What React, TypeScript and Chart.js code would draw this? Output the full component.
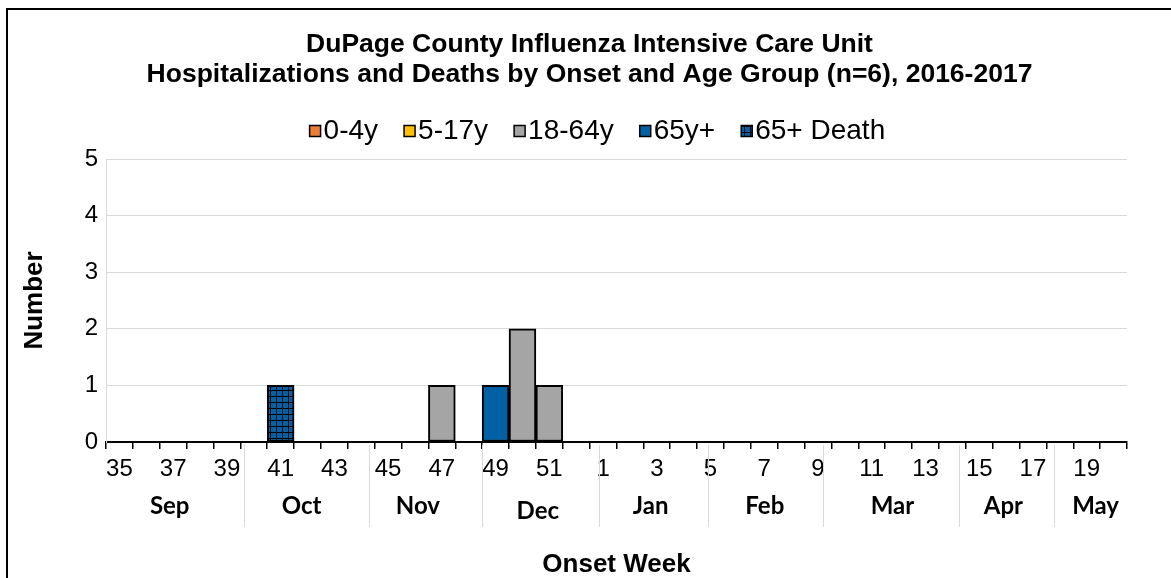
import React, { useEffect, useRef } from 'react';
import { Chart, registerables } from 'chart.js';

Chart.register(...registerables);

// ---------------- data ----------------
const weeks = [
  '35', '36', '37', '38', '39', '40', '41', '42', '43', '44', '45', '46', '47', '48', '49', '50', '51', '52',
  '1', '2', '3', '4', '5', '6', '7', '8', '9', '10', '11', '12', '13', '14', '15', '16', '17', '18', '19', '20',
];
const age0to4 = [
  0, 0, 0, 0, 0, 0, 0, 0, 0, 0, 0, 0, 0, 0, 0, 0, 0, 0,
  0, 0, 0, 0, 0, 0, 0, 0, 0, 0, 0, 0, 0, 0, 0, 0, 0, 0, 0, 0,
];
const age5to17 = [
  0, 0, 0, 0, 0, 0, 0, 0, 0, 0, 0, 0, 0, 0, 0, 0, 0, 0,
  0, 0, 0, 0, 0, 0, 0, 0, 0, 0, 0, 0, 0, 0, 0, 0, 0, 0, 0, 0,
];
const age18to64 = [
  0, 0, 0, 0, 0, 0, 0, 0, 0, 0, 0, 0, 1, 0, 0, 2, 1, 0,
  0, 0, 0, 0, 0, 0, 0, 0, 0, 0, 0, 0, 0, 0, 0, 0, 0, 0, 0, 0,
];
const age65plus = [
  0, 0, 0, 0, 0, 0, 0, 0, 0, 0, 0, 0, 0, 0, 1, 0, 0, 0,
  0, 0, 0, 0, 0, 0, 0, 0, 0, 0, 0, 0, 0, 0, 0, 0, 0, 0, 0, 0,
];
const death65plus = [
  0, 0, 0, 0, 0, 0, 1, 0, 0, 0, 0, 0, 0, 0, 0, 0, 0, 0,
  0, 0, 0, 0, 0, 0, 0, 0, 0, 0, 0, 0, 0, 0, 0, 0, 0, 0, 0, 0,
];
const seriesLabels = ['0-4y', '5-17y', '18-64y', '65y+', '65+ Death'];
const months = ['Sep', 'Oct', 'Nov', 'Dec', 'Jan', 'Feb', 'Mar', 'Apr', 'May'];
const yTicks = [0, 1, 2, 3, 4, 5];
const titleLines = [
  'DuPage County Influenza Intensive Care Unit',
  'Hospitalizations and Deaths by Onset and Age Group (n=6), 2016-2017',
];
const xTitle = 'Onset Week';
const yTitle = 'Number';

// ---------------- layout / style constants ----------------
const FONT = '"Liberation Sans", Arial, sans-serif';
const MONTH_FONT = '"Lato", "Liberation Sans", sans-serif';
const COLORS = ['#ED7D31', '#FFC000', '#A5A5A5', '#0062A4'];
const DEATH_BLUE = '#0062A4';
// positions in "category boundary" units (0 = left edge of first category)
const MONTH_LABEL_AT = [2.37, 7.28, 11.61, 16.07, 20.27, 24.52, 29.27, 33.4, 36.83];
const MONTH_LABEL_Y = [506, 506, 506, 511, 506, 506, 506, 506, 506];
const MONTH_SEPARATORS_AT = [5.14, 9.79, 13.99, 18.35, 22.4, 26.68, 31.75, 35.28];

function toNull(arr: number[]) {
  return arr.map((v) => (v === 0 ? null : v));
}

function makePattern(): CanvasPattern | string {
  const pc = document.createElement('canvas');
  pc.width = 6;
  pc.height = 6;
  const c = pc.getContext('2d');
  if (!c) return DEATH_BLUE;
  c.fillStyle = DEATH_BLUE;
  c.fillRect(0, 0, 6, 6);
  c.fillStyle = '#000';
  c.fillRect(0, 0, 6, 1);
  c.fillRect(0, 0, 1, 6);
  const p = c.createPattern(pc, 'repeat');
  return p || DEATH_BLUE;
}

const decorPlugin = {
  id: 'decor',
  afterLayout(chart: any) {
    const t = chart.titleBlock;
    if (t) {
      t.left += 22;
      t.right += 22;
    }
  },
  beforeDraw(chart: any) {
    const ctx = chart.ctx;
    ctx.save();
    ctx.fillStyle = '#fff';
    ctx.fillRect(0, 0, chart.width, chart.height);
    ctx.strokeStyle = '#000';
    ctx.lineWidth = 2;
    ctx.strokeRect(7, 9, chart.width + 20, chart.height + 20);
    ctx.restore();
  },
  afterDraw(chart: any) {
    const ctx = chart.ctx;
    const xs = chart.scales.x;
    ctx.save();
    // month separators
    ctx.strokeStyle = '#D9D9D9';
    ctx.lineWidth = 1;
    MONTH_SEPARATORS_AT.forEach((u) => {
      const x = Math.round(xs.getPixelForValue(u - 0.5)) + 0.5;
      ctx.beginPath();
      ctx.moveTo(x, 445);
      ctx.lineTo(x, 527);
      ctx.stroke();
    });
    // month labels
    ctx.fillStyle = '#000';
    ctx.font = 'bold 24px ' + MONTH_FONT;
    ctx.textAlign = 'center';
    ctx.textBaseline = 'middle';
    months.forEach((m, i) => {
      const x = xs.getPixelForValue(MONTH_LABEL_AT[i] - 0.5);
      ctx.fillText(m, x, MONTH_LABEL_Y[i]);
    });
    // legend
    const ds = chart.data.datasets;
    ctx.font = '28px ' + FONT;
    ctx.textAlign = 'left';
    const box = 11;
    const gapBoxText = 3;
    const gapItem = 26;
    const widths = ds.map((d: any) => ctx.measureText(d.label).width);
    const total =
      widths.reduce((a: number, b: number) => a + b, 0) +
      ds.length * (box + gapBoxText) +
      (ds.length - 1) * gapItem;
    let x = 597.4 - total / 2;
    const cy = 131;
    ds.forEach((d: any, i: number) => {
      ctx.fillStyle = d.backgroundColor;
      ctx.fillRect(x, cy - box / 2, box, box);
      ctx.strokeStyle = '#000';
      ctx.lineWidth = 1.5;
      ctx.strokeRect(x, cy - box / 2, box, box);
      ctx.fillStyle = '#000';
      ctx.fillText(d.label, x + box + gapBoxText, cy);
      x += box + gapBoxText + widths[i] + gapItem;
    });
    ctx.restore();
  },
};

export default function App() {
  const ref = useRef<HTMLCanvasElement | null>(null);

  useEffect(() => {
    if (!ref.current) return;
    const pattern = makePattern();
    const series = [age0to4, age5to17, age18to64, age65plus, death65plus];
    const datasets = series.map((s, i) => ({
      label: seriesLabels[i],
      data: toNull(s),
      backgroundColor: i < 4 ? COLORS[i] : pattern,
      borderColor: '#000',
      borderWidth: 2,
      borderSkipped: false,
      barPercentage: 1,
      categoryPercentage: 1,
    }));

    const chart = new Chart(ref.current, {
      type: 'bar',
      data: { labels: weeks, datasets: datasets as any },
      plugins: [decorPlugin as any],
      options: {
        animation: false,
        responsive: false,
        devicePixelRatio: 1,
        layout: { padding: { left: 8, right: 44, top: 0, bottom: 0 } },
        plugins: {
          legend: { display: false },
          tooltip: { enabled: false },
          title: {
            display: true,
            text: titleLines,
            color: '#000',
            font: { family: FONT, size: 26.5, weight: 'bold', lineHeight: 30 / 26.5 },
            padding: { top: 30, bottom: 69 },
          },
        },
        scales: {
          x: {
            stacked: true,
            offset: true,
            afterFit(scale: any) {
              scale.height = 136;
            },
            grid: {
              display: true,
              drawOnChartArea: false,
              drawTicks: true,
              tickLength: 7,
              color: '#000',
              lineWidth: 1.5,
              offset: true,
            },
            border: { display: true, color: '#000', width: 2 },
            ticks: {
              autoSkip: false,
              maxRotation: 0,
              minRotation: 0,
              padding: 6,
              color: '#000',
              font: { family: FONT, size: 24 },
              callback: (_v: any, idx: number) => (idx % 2 === 0 ? weeks[idx] : ''),
            },
            title: {
              display: true,
              text: xTitle,
              color: '#000',
              font: { family: FONT, size: 26, weight: 'bold', lineHeight: 1 },
              padding: { top: 0, bottom: 0 },
            },
          },
          y: {
            stacked: true,
            min: yTicks[0],
            max: yTicks[yTicks.length - 1],
            afterFit(scale: any) {
              scale.width = 98;
            },
            grid: { color: '#D9D9D9', lineWidth: 1, drawTicks: false },
            border: { display: true, color: '#D9D9D9', width: 1 },
            ticks: {
              stepSize: 1,
              padding: 8,
              color: '#000',
              font: { family: FONT, size: 24 },
            },
            title: {
              display: true,
              text: yTitle,
              color: '#000',
              font: { family: FONT, size: 26, weight: 'bold', lineHeight: 1 },
              padding: { top: 14, bottom: 0 },
            },
          },
        },
      },
    });
    return () => chart.destroy();
  }, []);

  return (
    <div style={{ position: 'fixed', left: 0, top: 0, width: 1171, height: 578, background: '#fff' }}>
      <canvas ref={ref} width={1171} height={578} style={{ display: 'block' }} />
    </div>
  );
}
